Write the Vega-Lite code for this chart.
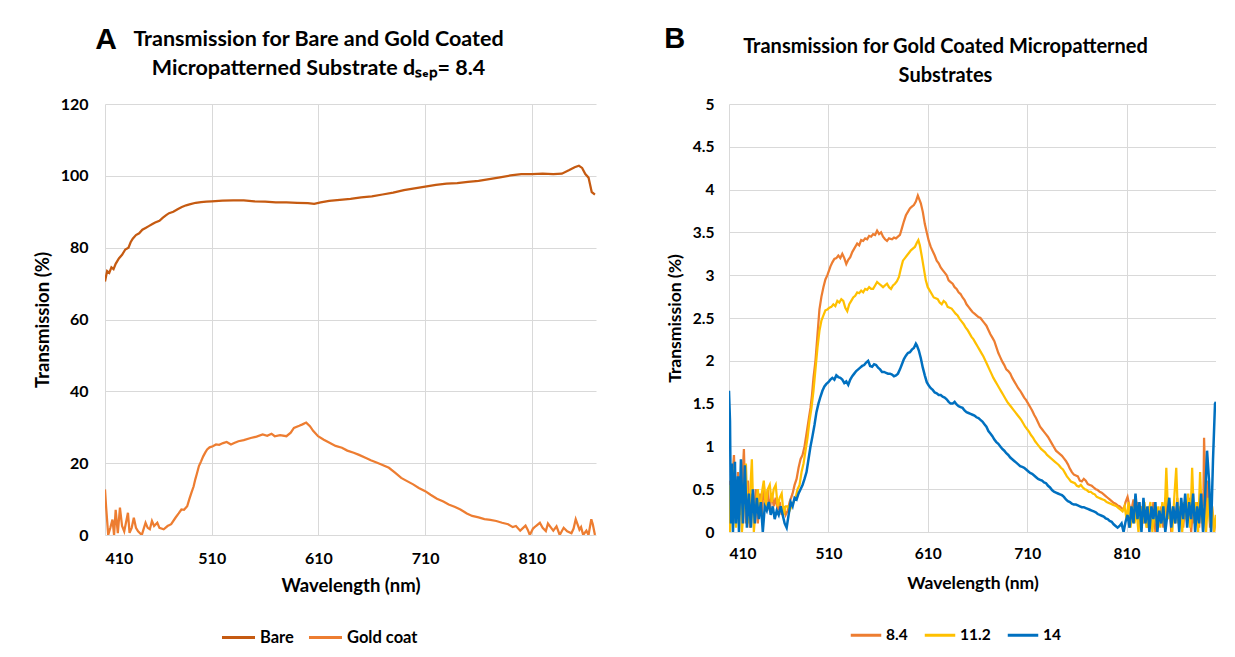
{
"$schema": "https://vega.github.io/schema/vega-lite/v6.json",
"background": "white",
"padding": {"left": 33, "top": 24, "right": 0, "bottom": 0},
"config": {
 "font": "Lato",
 "view": {"stroke": null},
 "axis": {"labelFont": "Lato", "labelFontWeight": "bold", "labelColor": "#000", "titleFont": "Lato", "titleFontWeight": "bold", "titleColor": "#000", "gridColor": "#d9d9d9", "gridWidth": 1, "ticks": false, "domain": false},
 "legend": {"orient": "none", "direction": "horizontal", "title": null, "symbolType": "stroke", "symbolStrokeWidth": 3, "labelFont": "Lato", "labelFontWeight": "bold", "labelColor": "#000", "labelOffset": 3},
 "title": {"font": "Lato", "fontWeight": "bold", "color": "#000"}
},
"resolve": {"scale": {"color": "independent"}, "legend": {"color": "independent"}},
"bounds": "flush",
"spacing": 624,
"datasets": {
 "bare": [{"w":410,"t":70.6},{"w":412,"t":73.5},{"w":414,"t":73},{"w":416,"t":74.5},{"w":418,"t":74},{"w":420,"t":75.5},{"w":423,"t":77},{"w":426,"t":78},{"w":429,"t":79.5},{"w":432,"t":80},{"w":434,"t":81.5},{"w":436,"t":82.5},{"w":439,"t":83.5},{"w":442,"t":84},{"w":445,"t":85},{"w":448,"t":85.5},{"w":451,"t":86},{"w":454,"t":86.5},{"w":457,"t":87},{"w":461,"t":87.5},{"w":464,"t":88.3},{"w":467,"t":89},{"w":470,"t":89.6},{"w":474,"t":90},{"w":478,"t":90.7},{"w":482,"t":91.3},{"w":486,"t":91.8},{"w":490,"t":92.1},{"w":495,"t":92.5},{"w":500,"t":92.7},{"w":505,"t":92.8},{"w":510,"t":92.9},{"w":520,"t":93.1},{"w":530,"t":93.2},{"w":540,"t":93.2},{"w":550,"t":92.9},{"w":560,"t":92.8},{"w":570,"t":92.6},{"w":580,"t":92.6},{"w":590,"t":92.5},{"w":600,"t":92.4},{"w":606,"t":92.2},{"w":612,"t":92.6},{"w":620,"t":93},{"w":630,"t":93.3},{"w":640,"t":93.6},{"w":650,"t":94},{"w":660,"t":94.3},{"w":670,"t":94.8},{"w":680,"t":95.3},{"w":690,"t":96},{"w":700,"t":96.5},{"w":710,"t":97},{"w":720,"t":97.5},{"w":730,"t":97.8},{"w":740,"t":98},{"w":750,"t":98.3},{"w":760,"t":98.6},{"w":770,"t":99.1},{"w":780,"t":99.6},{"w":790,"t":100.1},{"w":800,"t":100.5},{"w":810,"t":100.5},{"w":820,"t":100.6},{"w":830,"t":100.5},{"w":838,"t":100.6},{"w":845,"t":101.6},{"w":850,"t":102.4},{"w":854,"t":102.8},{"w":857,"t":102.2},{"w":860,"t":100.5},{"w":863,"t":99.5},{"w":866,"t":95.5},{"w":869,"t":94.8}],
 "gold": [{"w":410,"t":12.7},{"w":411,"t":8},{"w":413,"t":0},{"w":415,"t":2},{"w":417,"t":4.3},{"w":418.5,"t":0},{"w":420,"t":7},{"w":422,"t":0.5},{"w":424,"t":7.6},{"w":426,"t":2.5},{"w":428,"t":1},{"w":431.5,"t":6.2},{"w":433,"t":0.6},{"w":435,"t":2},{"w":437,"t":4.8},{"w":439,"t":2},{"w":441,"t":1},{"w":444.5,"t":0},{"w":446,"t":1.5},{"w":448,"t":3.4},{"w":450,"t":2},{"w":452,"t":1.6},{"w":454,"t":3.9},{"w":456,"t":2.5},{"w":459,"t":3.4},{"w":461,"t":2},{"w":465,"t":1.6},{"w":468.6,"t":2.5},{"w":472,"t":3},{"w":476,"t":4.8},{"w":479,"t":6},{"w":481.6,"t":7.1},{"w":484,"t":7},{"w":487,"t":8},{"w":489,"t":10},{"w":491,"t":11.8},{"w":493,"t":13.5},{"w":494.6,"t":15.5},{"w":496,"t":17},{"w":498,"t":19.2},{"w":500,"t":20.5},{"w":502,"t":21.9},{"w":504,"t":23},{"w":505.7,"t":23.8},{"w":508,"t":24.4},{"w":511,"t":24.7},{"w":514,"t":25.2},{"w":517,"t":25.1},{"w":520.6,"t":25.6},{"w":524,"t":25.9},{"w":528,"t":25.2},{"w":531,"t":25.6},{"w":535,"t":26.1},{"w":540,"t":26.4},{"w":546.5,"t":27},{"w":552,"t":27.4},{"w":557.7,"t":28},{"w":562,"t":27.6},{"w":566,"t":28.2},{"w":569,"t":27.5},{"w":574,"t":27.8},{"w":580,"t":27.5},{"w":584,"t":28.5},{"w":587,"t":29.8},{"w":592,"t":30.4},{"w":595,"t":30.8},{"w":598.5,"t":31.3},{"w":602,"t":30.3},{"w":605,"t":29},{"w":609.6,"t":27.5},{"w":615,"t":26.5},{"w":620.8,"t":25.6},{"w":626,"t":24.8},{"w":632,"t":24.3},{"w":637,"t":23.5},{"w":643,"t":22.9},{"w":648,"t":22.3},{"w":654,"t":21.5},{"w":659,"t":20.8},{"w":665,"t":20.1},{"w":670,"t":19.5},{"w":676,"t":18.7},{"w":682,"t":17.3},{"w":687.5,"t":15.9},{"w":693,"t":15},{"w":698.7,"t":14.1},{"w":704,"t":13.1},{"w":710,"t":12.2},{"w":715,"t":11.2},{"w":721,"t":10.1},{"w":727,"t":9.3},{"w":732,"t":8.5},{"w":738,"t":7.8},{"w":743,"t":7.1},{"w":749,"t":6},{"w":754,"t":5.3},{"w":760,"t":4.9},{"w":765.5,"t":4.4},{"w":771,"t":4.2},{"w":776.6,"t":3.9},{"w":782,"t":3.4},{"w":787.7,"t":3},{"w":792,"t":2.2},{"w":795,"t":2.5},{"w":799,"t":1.2},{"w":804,"t":2.6},{"w":806,"t":1.5},{"w":808,"t":0},{"w":811,"t":1.8},{"w":813.7,"t":2.5},{"w":817.4,"t":3.4},{"w":820,"t":2},{"w":823,"t":1.1},{"w":825,"t":3.2},{"w":828,"t":2},{"w":830,"t":1.2},{"w":833,"t":2.4},{"w":836,"t":0},{"w":839.7,"t":2},{"w":843,"t":1},{"w":847,"t":0.5},{"w":849,"t":1.8},{"w":851,"t":4.4},{"w":854.5,"t":1.5},{"w":856,"t":2.2},{"w":858,"t":0},{"w":861,"t":1.2},{"w":863,"t":0},{"w":865.6,"t":4.4},{"w":867,"t":3},{"w":869,"t":0}],
 "s84": [{"w":410,"t":0.6},{"w":411,"t":0.15},{"w":413,"t":0.55},{"w":415,"t":0.9},{"w":417,"t":0.1},{"w":419,"t":0.7},{"w":421,"t":0.2},{"w":423,"t":0.5},{"w":425,"t":0.97},{"w":427,"t":0.1},{"w":429,"t":0.6},{"w":431,"t":0.05},{"w":433,"t":0.45},{"w":435,"t":0.2},{"w":437,"t":0.5},{"w":439,"t":0.1},{"w":441,"t":0.45},{"w":443,"t":0.2},{"w":445,"t":0.55},{"w":447,"t":0.3},{"w":449,"t":0.5},{"w":451,"t":0.25},{"w":453,"t":0.45},{"w":455,"t":0.3},{"w":457,"t":0.4},{"w":459,"t":0.25},{"w":461,"t":0.35},{"w":463,"t":0.2},{"w":465,"t":0.3},{"w":467,"t":0.2},{"w":469,"t":0.25},{"w":471,"t":0.35},{"w":474,"t":0.45},{"w":476,"t":0.55},{"w":478,"t":0.62},{"w":480,"t":0.75},{"w":482,"t":0.85},{"w":484,"t":0.9},{"w":486,"t":1.0},{"w":488,"t":1.15},{"w":490,"t":1.3},{"w":492,"t":1.45},{"w":493.5,"t":1.6},{"w":495,"t":1.8},{"w":497,"t":2.0},{"w":499,"t":2.3},{"w":501,"t":2.6},{"w":503,"t":2.75},{"w":505,"t":2.86},{"w":507,"t":2.95},{"w":509,"t":3.0},{"w":512,"t":3.1},{"w":514,"t":3.15},{"w":516,"t":3.19},{"w":518,"t":3.2},{"w":520,"t":3.23},{"w":522,"t":3.2},{"w":524,"t":3.25},{"w":526,"t":3.2},{"w":528,"t":3.13},{"w":530,"t":3.18},{"w":532,"t":3.21},{"w":534,"t":3.27},{"w":536,"t":3.31},{"w":539,"t":3.37},{"w":541,"t":3.35},{"w":543,"t":3.41},{"w":545,"t":3.4},{"w":547,"t":3.43},{"w":549,"t":3.42},{"w":551,"t":3.46},{"w":553,"t":3.45},{"w":555,"t":3.48},{"w":557,"t":3.47},{"w":559,"t":3.52},{"w":561,"t":3.48},{"w":563,"t":3.5},{"w":565,"t":3.45},{"w":567,"t":3.42},{"w":569,"t":3.4},{"w":571,"t":3.43},{"w":574,"t":3.42},{"w":576,"t":3.44},{"w":578,"t":3.43},{"w":580,"t":3.45},{"w":582,"t":3.47},{"w":584,"t":3.55},{"w":586,"t":3.63},{"w":588,"t":3.7},{"w":590,"t":3.74},{"w":592,"t":3.78},{"w":594,"t":3.8},{"w":596,"t":3.82},{"w":598,"t":3.86},{"w":600,"t":3.93},{"w":601,"t":3.9},{"w":603,"t":3.84},{"w":605,"t":3.74},{"w":607,"t":3.6},{"w":609,"t":3.5},{"w":611,"t":3.4},{"w":613,"t":3.33},{"w":615,"t":3.28},{"w":617,"t":3.23},{"w":619,"t":3.17},{"w":621,"t":3.14},{"w":623,"t":3.09},{"w":625,"t":3.06},{"w":627,"t":3.03},{"w":629,"t":3.0},{"w":631,"t":2.94},{"w":633,"t":2.92},{"w":635,"t":2.9},{"w":637,"t":2.86},{"w":639,"t":2.84},{"w":641,"t":2.8},{"w":643,"t":2.78},{"w":645,"t":2.74},{"w":647,"t":2.71},{"w":649,"t":2.66},{"w":651,"t":2.63},{"w":653,"t":2.6},{"w":655,"t":2.57},{"w":657,"t":2.55},{"w":659,"t":2.53},{"w":661,"t":2.51},{"w":663,"t":2.5},{"w":665,"t":2.47},{"w":667,"t":2.44},{"w":669,"t":2.41},{"w":671,"t":2.36},{"w":673,"t":2.31},{"w":675,"t":2.27},{"w":677,"t":2.23},{"w":679,"t":2.16},{"w":681,"t":2.09},{"w":683,"t":2.04},{"w":685,"t":1.99},{"w":687,"t":1.95},{"w":689,"t":1.9},{"w":691,"t":1.88},{"w":693,"t":1.85},{"w":695,"t":1.8},{"w":697,"t":1.76},{"w":699,"t":1.72},{"w":701,"t":1.68},{"w":703,"t":1.65},{"w":705,"t":1.61},{"w":707,"t":1.57},{"w":709,"t":1.54},{"w":711,"t":1.5},{"w":713,"t":1.46},{"w":715,"t":1.42},{"w":717,"t":1.37},{"w":719,"t":1.33},{"w":721,"t":1.28},{"w":723,"t":1.23},{"w":725,"t":1.2},{"w":727,"t":1.17},{"w":729,"t":1.14},{"w":731,"t":1.11},{"w":733,"t":1.07},{"w":735,"t":1.03},{"w":737,"t":0.99},{"w":739,"t":0.95},{"w":741,"t":0.93},{"w":743,"t":0.91},{"w":745,"t":0.89},{"w":747,"t":0.86},{"w":749,"t":0.83},{"w":751,"t":0.79},{"w":753,"t":0.74},{"w":755,"t":0.7},{"w":757,"t":0.67},{"w":759,"t":0.66},{"w":761,"t":0.65},{"w":763,"t":0.6},{"w":765,"t":0.59},{"w":767,"t":0.62},{"w":769,"t":0.6},{"w":771,"t":0.56},{"w":773,"t":0.55},{"w":775,"t":0.54},{"w":777,"t":0.52},{"w":779,"t":0.5},{"w":781,"t":0.49},{"w":783,"t":0.47},{"w":785,"t":0.46},{"w":787,"t":0.44},{"w":789,"t":0.42},{"w":791,"t":0.4},{"w":793,"t":0.38},{"w":795,"t":0.36},{"w":797,"t":0.34},{"w":799,"t":0.33},{"w":801,"t":0.31},{"w":803,"t":0.3},{"w":805,"t":0.28},{"w":807,"t":0.26},{"w":809,"t":0.35},{"w":811,"t":0.41},{"w":813,"t":0.3},{"w":815,"t":0.26},{"w":817,"t":0.38},{"w":819,"t":0.2},{"w":821,"t":0.35},{"w":823,"t":0.15},{"w":825,"t":0.3},{"w":827,"t":0.1},{"w":829,"t":0.25},{"w":831,"t":0.05},{"w":833,"t":0.3},{"w":835,"t":0.1},{"w":837,"t":0.35},{"w":839,"t":0.0},{"w":841,"t":0.25},{"w":843,"t":0.1},{"w":845,"t":0.3},{"w":847,"t":0.05},{"w":849,"t":0.4},{"w":851,"t":0.15},{"w":853,"t":0.35},{"w":855,"t":0.0},{"w":857,"t":0.3},{"w":859,"t":0.1},{"w":861,"t":0.4},{"w":863,"t":0.15},{"w":865,"t":0.3},{"w":867,"t":0.05},{"w":869,"t":0.35},{"w":871,"t":0.1},{"w":873,"t":0.4},{"w":875,"t":0.0},{"w":877,"t":0.3},{"w":879,"t":0.15},{"w":881,"t":0.35},{"w":883,"t":0.05},{"w":885,"t":0.45},{"w":887,"t":0.0},{"w":888,"t":1.1},{"w":890,"t":0.2},{"w":892,"t":0.6},{"w":894,"t":0.05},{"w":896,"t":0.3},{"w":898,"t":0.0},{"w":900,"t":0.2}],
 "s112": [{"w":410,"t":0.55},{"w":411,"t":0.0},{"w":413,"t":0.4},{"w":415,"t":0.75},{"w":417,"t":0.05},{"w":419,"t":0.5},{"w":421,"t":0.65},{"w":423,"t":0.0},{"w":425,"t":0.3},{"w":427,"t":0.8},{"w":429,"t":0.1},{"w":431,"t":0.4},{"w":433,"t":0.85},{"w":435,"t":0.0},{"w":437,"t":0.3},{"w":439,"t":0.5},{"w":441,"t":0.2},{"w":443,"t":0.45},{"w":445,"t":0.6},{"w":447,"t":0.3},{"w":449,"t":0.5},{"w":451,"t":0.55},{"w":453,"t":0.35},{"w":455,"t":0.5},{"w":457,"t":0.55},{"w":459,"t":0.3},{"w":461,"t":0.4},{"w":463,"t":0.45},{"w":465,"t":0.2},{"w":467,"t":0.3},{"w":469,"t":0.3},{"w":471,"t":0.25},{"w":473,"t":0.3},{"w":475,"t":0.35},{"w":477,"t":0.4},{"w":479,"t":0.5},{"w":481,"t":0.55},{"w":483,"t":0.7},{"w":485,"t":0.8},{"w":487,"t":0.95},{"w":489,"t":1.1},{"w":491,"t":1.3},{"w":493,"t":1.45},{"w":495,"t":1.65},{"w":497,"t":1.9},{"w":499,"t":2.15},{"w":501,"t":2.35},{"w":503,"t":2.47},{"w":505,"t":2.53},{"w":507,"t":2.59},{"w":509,"t":2.6},{"w":511,"t":2.62},{"w":513,"t":2.63},{"w":515,"t":2.66},{"w":517,"t":2.64},{"w":519,"t":2.7},{"w":521,"t":2.68},{"w":523,"t":2.72},{"w":525,"t":2.7},{"w":527,"t":2.62},{"w":529,"t":2.58},{"w":531,"t":2.66},{"w":533,"t":2.7},{"w":535,"t":2.74},{"w":537,"t":2.76},{"w":539,"t":2.8},{"w":541,"t":2.79},{"w":543,"t":2.82},{"w":545,"t":2.8},{"w":547,"t":2.84},{"w":549,"t":2.83},{"w":551,"t":2.86},{"w":553,"t":2.84},{"w":555,"t":2.84},{"w":557,"t":2.88},{"w":559,"t":2.92},{"w":561,"t":2.9},{"w":563,"t":2.88},{"w":565,"t":2.86},{"w":567,"t":2.88},{"w":569,"t":2.9},{"w":571,"t":2.86},{"w":573,"t":2.84},{"w":575,"t":2.88},{"w":577,"t":2.9},{"w":579,"t":2.93},{"w":581,"t":2.98},{"w":583,"t":3.08},{"w":585,"t":3.17},{"w":587,"t":3.2},{"w":589,"t":3.23},{"w":591,"t":3.26},{"w":593,"t":3.29},{"w":595,"t":3.31},{"w":597,"t":3.33},{"w":599,"t":3.38},{"w":600.5,"t":3.41},{"w":602,"t":3.35},{"w":604,"t":3.22},{"w":606,"t":3.08},{"w":608,"t":2.94},{"w":610,"t":2.86},{"w":612,"t":2.82},{"w":614,"t":2.78},{"w":616,"t":2.74},{"w":618,"t":2.73},{"w":620,"t":2.72},{"w":622,"t":2.68},{"w":624,"t":2.66},{"w":626,"t":2.7},{"w":628,"t":2.68},{"w":630,"t":2.63},{"w":632,"t":2.62},{"w":634,"t":2.61},{"w":636,"t":2.58},{"w":638,"t":2.55},{"w":640,"t":2.53},{"w":642,"t":2.49},{"w":644,"t":2.46},{"w":646,"t":2.43},{"w":648,"t":2.39},{"w":650,"t":2.36},{"w":652,"t":2.32},{"w":654,"t":2.28},{"w":656,"t":2.25},{"w":658,"t":2.21},{"w":660,"t":2.17},{"w":662,"t":2.13},{"w":664,"t":2.09},{"w":666,"t":2.05},{"w":668,"t":2.0},{"w":670,"t":1.95},{"w":672,"t":1.9},{"w":674,"t":1.85},{"w":676,"t":1.8},{"w":678,"t":1.76},{"w":680,"t":1.72},{"w":682,"t":1.68},{"w":684,"t":1.64},{"w":686,"t":1.6},{"w":688,"t":1.56},{"w":690,"t":1.52},{"w":692,"t":1.49},{"w":694,"t":1.46},{"w":696,"t":1.43},{"w":698,"t":1.4},{"w":700,"t":1.37},{"w":702,"t":1.34},{"w":704,"t":1.31},{"w":706,"t":1.27},{"w":708,"t":1.23},{"w":710,"t":1.2},{"w":712,"t":1.17},{"w":714,"t":1.13},{"w":716,"t":1.1},{"w":718,"t":1.06},{"w":720,"t":1.03},{"w":722,"t":1.0},{"w":724,"t":0.97},{"w":726,"t":0.95},{"w":728,"t":0.93},{"w":730,"t":0.9},{"w":732,"t":0.88},{"w":734,"t":0.86},{"w":736,"t":0.84},{"w":738,"t":0.82},{"w":740,"t":0.8},{"w":742,"t":0.78},{"w":744,"t":0.75},{"w":746,"t":0.73},{"w":748,"t":0.69},{"w":750,"t":0.65},{"w":752,"t":0.62},{"w":754,"t":0.59},{"w":756,"t":0.58},{"w":758,"t":0.57},{"w":760,"t":0.54},{"w":762,"t":0.53},{"w":764,"t":0.55},{"w":766,"t":0.52},{"w":768,"t":0.5},{"w":770,"t":0.49},{"w":772,"t":0.47},{"w":774,"t":0.47},{"w":776,"t":0.45},{"w":778,"t":0.44},{"w":780,"t":0.41},{"w":782,"t":0.4},{"w":784,"t":0.39},{"w":786,"t":0.38},{"w":788,"t":0.37},{"w":790,"t":0.35},{"w":792,"t":0.34},{"w":794,"t":0.33},{"w":796,"t":0.32},{"w":798,"t":0.31},{"w":800,"t":0.3},{"w":802,"t":0.28},{"w":804,"t":0.26},{"w":806,"t":0.24},{"w":808,"t":0.3},{"w":810,"t":0.15},{"w":812,"t":0.35},{"w":814,"t":0.05},{"w":816,"t":0.3},{"w":818,"t":0.1},{"w":820,"t":0.25},{"w":822,"t":0.0},{"w":824,"t":0.3},{"w":826,"t":0.1},{"w":828,"t":0.35},{"w":830,"t":0.05},{"w":832,"t":0.2},{"w":834,"t":0.35},{"w":836,"t":0.0},{"w":838,"t":0.25},{"w":840,"t":0.1},{"w":842,"t":0.3},{"w":844,"t":0.05},{"w":846,"t":0.35},{"w":848,"t":0.1},{"w":850,"t":0.75},{"w":852,"t":0.15},{"w":854,"t":0.3},{"w":856,"t":0.0},{"w":858,"t":0.4},{"w":860,"t":0.75},{"w":862,"t":0.1},{"w":864,"t":0.3},{"w":866,"t":0.0},{"w":868,"t":0.35},{"w":870,"t":0.15},{"w":872,"t":0.45},{"w":874,"t":0.05},{"w":876,"t":0.75},{"w":878,"t":0.1},{"w":880,"t":0.35},{"w":882,"t":0.0},{"w":884,"t":0.7},{"w":886,"t":0.1},{"w":888,"t":0.3},{"w":890,"t":0.0},{"w":892,"t":0.4},{"w":894,"t":0.1},{"w":896,"t":0.3},{"w":898,"t":0.0},{"w":900,"t":0.2}],
 "s14": [{"w":410,"t":1.65},{"w":411,"t":1.3},{"w":412,"t":0.1},{"w":413,"t":0.8},{"w":414,"t":0.0},{"w":416,"t":0.82},{"w":417,"t":0.1},{"w":419,"t":0.65},{"w":420,"t":0.0},{"w":422,"t":0.85},{"w":424,"t":0.1},{"w":426,"t":0.78},{"w":428,"t":0.05},{"w":430,"t":0.45},{"w":432,"t":0.05},{"w":434,"t":0.5},{"w":436,"t":0.1},{"w":438,"t":0.4},{"w":440,"t":0.15},{"w":442,"t":0.35},{"w":444,"t":0.0},{"w":446,"t":0.3},{"w":448,"t":0.25},{"w":450,"t":0.35},{"w":452,"t":0.2},{"w":454,"t":0.3},{"w":456,"t":0.15},{"w":458,"t":0.25},{"w":460,"t":0.2},{"w":462,"t":0.3},{"w":464,"t":0.2},{"w":466,"t":0.1},{"w":468,"t":0.05},{"w":470,"t":0.2},{"w":472,"t":0.35},{"w":474,"t":0.3},{"w":476,"t":0.4},{"w":478,"t":0.38},{"w":480,"t":0.45},{"w":482,"t":0.5},{"w":484,"t":0.55},{"w":486,"t":0.62},{"w":488,"t":0.7},{"w":490,"t":0.85},{"w":492,"t":1.0},{"w":494,"t":1.12},{"w":496,"t":1.25},{"w":498,"t":1.4},{"w":500,"t":1.5},{"w":502,"t":1.58},{"w":504,"t":1.65},{"w":506,"t":1.7},{"w":508,"t":1.73},{"w":510,"t":1.75},{"w":512,"t":1.78},{"w":514,"t":1.8},{"w":516,"t":1.78},{"w":518,"t":1.83},{"w":520,"t":1.81},{"w":522,"t":1.8},{"w":524,"t":1.78},{"w":526,"t":1.74},{"w":528,"t":1.76},{"w":530,"t":1.72},{"w":532,"t":1.78},{"w":534,"t":1.82},{"w":536,"t":1.85},{"w":538,"t":1.88},{"w":540,"t":1.9},{"w":542,"t":1.92},{"w":544,"t":1.94},{"w":546,"t":1.95},{"w":548,"t":1.98},{"w":550,"t":2.0},{"w":552,"t":1.94},{"w":554,"t":1.93},{"w":556,"t":1.96},{"w":558,"t":1.95},{"w":560,"t":1.92},{"w":562,"t":1.9},{"w":564,"t":1.87},{"w":566,"t":1.87},{"w":568,"t":1.86},{"w":570,"t":1.85},{"w":572,"t":1.85},{"w":574,"t":1.84},{"w":576,"t":1.82},{"w":578,"t":1.83},{"w":580,"t":1.85},{"w":582,"t":1.9},{"w":584,"t":1.96},{"w":586,"t":2.02},{"w":588,"t":2.06},{"w":590,"t":2.09},{"w":592,"t":2.1},{"w":594,"t":2.13},{"w":596,"t":2.15},{"w":598,"t":2.2},{"w":599,"t":2.18},{"w":601,"t":2.12},{"w":603,"t":2.03},{"w":605,"t":1.92},{"w":607,"t":1.83},{"w":609,"t":1.75},{"w":611,"t":1.71},{"w":613,"t":1.68},{"w":615,"t":1.66},{"w":617,"t":1.63},{"w":619,"t":1.62},{"w":621,"t":1.6},{"w":623,"t":1.6},{"w":625,"t":1.58},{"w":627,"t":1.57},{"w":629,"t":1.55},{"w":631,"t":1.52},{"w":633,"t":1.5},{"w":635,"t":1.5},{"w":637,"t":1.52},{"w":639,"t":1.49},{"w":641,"t":1.47},{"w":643,"t":1.46},{"w":645,"t":1.45},{"w":647,"t":1.42},{"w":649,"t":1.4},{"w":651,"t":1.39},{"w":653,"t":1.38},{"w":655,"t":1.37},{"w":657,"t":1.36},{"w":659,"t":1.34},{"w":661,"t":1.33},{"w":663,"t":1.31},{"w":665,"t":1.29},{"w":667,"t":1.26},{"w":669,"t":1.23},{"w":671,"t":1.18},{"w":673,"t":1.15},{"w":675,"t":1.12},{"w":677,"t":1.08},{"w":679,"t":1.05},{"w":681,"t":1.03},{"w":683,"t":1.0},{"w":685,"t":0.97},{"w":687,"t":0.95},{"w":689,"t":0.92},{"w":691,"t":0.9},{"w":693,"t":0.87},{"w":695,"t":0.85},{"w":697,"t":0.83},{"w":699,"t":0.81},{"w":701,"t":0.79},{"w":703,"t":0.77},{"w":705,"t":0.76},{"w":707,"t":0.75},{"w":709,"t":0.73},{"w":711,"t":0.71},{"w":713,"t":0.69},{"w":715,"t":0.68},{"w":717,"t":0.66},{"w":719,"t":0.64},{"w":721,"t":0.62},{"w":723,"t":0.61},{"w":725,"t":0.6},{"w":727,"t":0.58},{"w":729,"t":0.57},{"w":731,"t":0.54},{"w":733,"t":0.52},{"w":735,"t":0.49},{"w":737,"t":0.47},{"w":739,"t":0.46},{"w":741,"t":0.45},{"w":743,"t":0.44},{"w":745,"t":0.43},{"w":747,"t":0.41},{"w":749,"t":0.38},{"w":751,"t":0.36},{"w":753,"t":0.35},{"w":755,"t":0.33},{"w":757,"t":0.32},{"w":759,"t":0.32},{"w":761,"t":0.31},{"w":763,"t":0.3},{"w":765,"t":0.29},{"w":767,"t":0.29},{"w":769,"t":0.28},{"w":771,"t":0.27},{"w":773,"t":0.26},{"w":775,"t":0.25},{"w":777,"t":0.24},{"w":779,"t":0.23},{"w":781,"t":0.21},{"w":783,"t":0.2},{"w":785,"t":0.19},{"w":787,"t":0.18},{"w":789,"t":0.16},{"w":791,"t":0.15},{"w":793,"t":0.13},{"w":795,"t":0.12},{"w":797,"t":0.09},{"w":799,"t":0.07},{"w":801,"t":0.05},{"w":803,"t":0.07},{"w":805,"t":0.1},{"w":807,"t":0.0},{"w":809,"t":0.12},{"w":811,"t":0.2},{"w":813,"t":0.05},{"w":815,"t":0.3},{"w":817,"t":0.1},{"w":819,"t":0.45},{"w":821,"t":0.15},{"w":823,"t":0.35},{"w":825,"t":0.0},{"w":827,"t":0.4},{"w":829,"t":0.1},{"w":831,"t":0.3},{"w":833,"t":0.0},{"w":835,"t":0.3},{"w":837,"t":0.15},{"w":839,"t":0.35},{"w":841,"t":0.0},{"w":843,"t":0.25},{"w":845,"t":0.1},{"w":847,"t":0.3},{"w":849,"t":0.0},{"w":851,"t":0.2},{"w":853,"t":0.4},{"w":855,"t":0.05},{"w":857,"t":0.3},{"w":859,"t":0.1},{"w":861,"t":0.35},{"w":863,"t":0.0},{"w":865,"t":0.4},{"w":867,"t":0.15},{"w":869,"t":0.45},{"w":871,"t":0.05},{"w":873,"t":0.35},{"w":875,"t":0.15},{"w":877,"t":0.45},{"w":879,"t":0.0},{"w":881,"t":0.3},{"w":883,"t":0.1},{"w":885,"t":0.45},{"w":887,"t":0.0},{"w":889,"t":0.4},{"w":891,"t":0.95},{"w":893,"t":0.6},{"w":895,"t":0.0},{"w":897,"t":0.85},{"w":899,"t":1.5},{"w":900,"t":1.52}]
},
"hconcat": [
 {
  "title": {"text": "A", "anchor": "start", "font": "Liberation Sans", "fontSize": 30, "fontWeight": "bold", "offset": 0, "dx": 62, "dy": 26},
  "bounds": "flush",
  "vconcat": [{
   "title": {"text": ["Transmission for Bare and Gold Coated", "Micropatterned Substrate dₛₑₚ= 8.4"], "anchor": "middle", "fontSize": 21.5, "lineHeight": 29, "offset": 17, "dx": -32},
   "width": 491, "height": 431,
   "encoding": {
    "x": {"field": "w", "type": "quantitative", "scale": {"domain": [410, 870], "nice": false, "zero": false}, "axis": {"values": [410, 510, 610, 710, 810], "title": "Wavelength (nm)", "labelFontSize": 16, "titleFontSize": 18.5, "labelPadding": 15, "titlePadding": 10}},
    "y": {"field": "t", "type": "quantitative", "scale": {"domain": [0, 120], "nice": false}, "axis": {"values": [0, 20, 40, 60, 80, 100, 120], "format": "d", "title": "Transmission (%)", "labelFontSize": 16, "titleFontSize": 18.5, "labelPadding": 17, "titlePadding": 8}}
   },
   "layer": [
    {"data": {"name": "bare"}, "mark": {"type": "line", "strokeWidth": 2.25, "clip": true}, "encoding": {"color": {"datum": "Bare", "type": "nominal", "scale": {"domain": ["Bare", "Gold coat"], "range": ["#c55a11", "#ed7d31"]}, "legend": {"legendX": 115, "legendY": 515, "symbolSize": 1090, "labelFontSize": 16.5, "columnPadding": 8}}}},
    {"data": {"name": "gold"}, "mark": {"type": "line", "strokeWidth": 2.25, "clip": true}, "encoding": {"color": {"datum": "Gold coat", "type": "nominal"}}}
   ]
  }]
 },
 {
  "title": {"text": "B", "anchor": "start", "font": "Liberation Sans", "fontSize": 29, "fontWeight": "bold", "offset": 0, "dx": -2, "dy": 17},
  "bounds": "flush",
  "vconcat": [{
   "title": {"text": ["Transmission for Gold Coated Micropatterned", "Substrates"], "anchor": "middle", "fontSize": 20, "lineHeight": 29, "offset": 11, "dx": -27},
   "width": 487, "height": 428,
   "encoding": {
    "x": {"field": "w", "type": "quantitative", "scale": {"domain": [410, 900], "nice": false, "zero": false}, "axis": {"values": [410, 510, 610, 710, 810], "title": "Wavelength (nm)", "labelFontSize": 15.5, "titleFontSize": 17.5, "labelPadding": 14.5, "titlePadding": 12}},
    "y": {"field": "t", "type": "quantitative", "scale": {"domain": [0, 5], "nice": false}, "axis": {"values": [0, 0.5, 1, 1.5, 2, 2.5, 3, 3.5, 4, 4.5, 5], "format": "~g", "title": "Transmission (%)", "labelFontSize": 15.5, "titleFontSize": 17.5, "labelPadding": 15, "titlePadding": 8}}
   },
   "layer": [
    {"data": {"name": "s84"}, "mark": {"type": "line", "strokeWidth": 2.25, "clip": true}, "encoding": {"color": {"datum": "8.4", "type": "nominal", "scale": {"domain": ["8.4", "11.2", "14"], "range": ["#ed7d31", "#ffc000", "#0070c0"]}, "legend": {"legendX": 120, "legendY": 514, "symbolSize": 930, "labelFontSize": 15.5, "columnPadding": 10}}}},
    {"data": {"name": "s112"}, "mark": {"type": "line", "strokeWidth": 2.25, "clip": true}, "encoding": {"color": {"datum": "11.2", "type": "nominal"}}},
    {"data": {"name": "s14"}, "mark": {"type": "line", "strokeWidth": 2.5, "clip": true}, "encoding": {"color": {"datum": "14", "type": "nominal"}}}
   ]
  }]
 }
]
}
